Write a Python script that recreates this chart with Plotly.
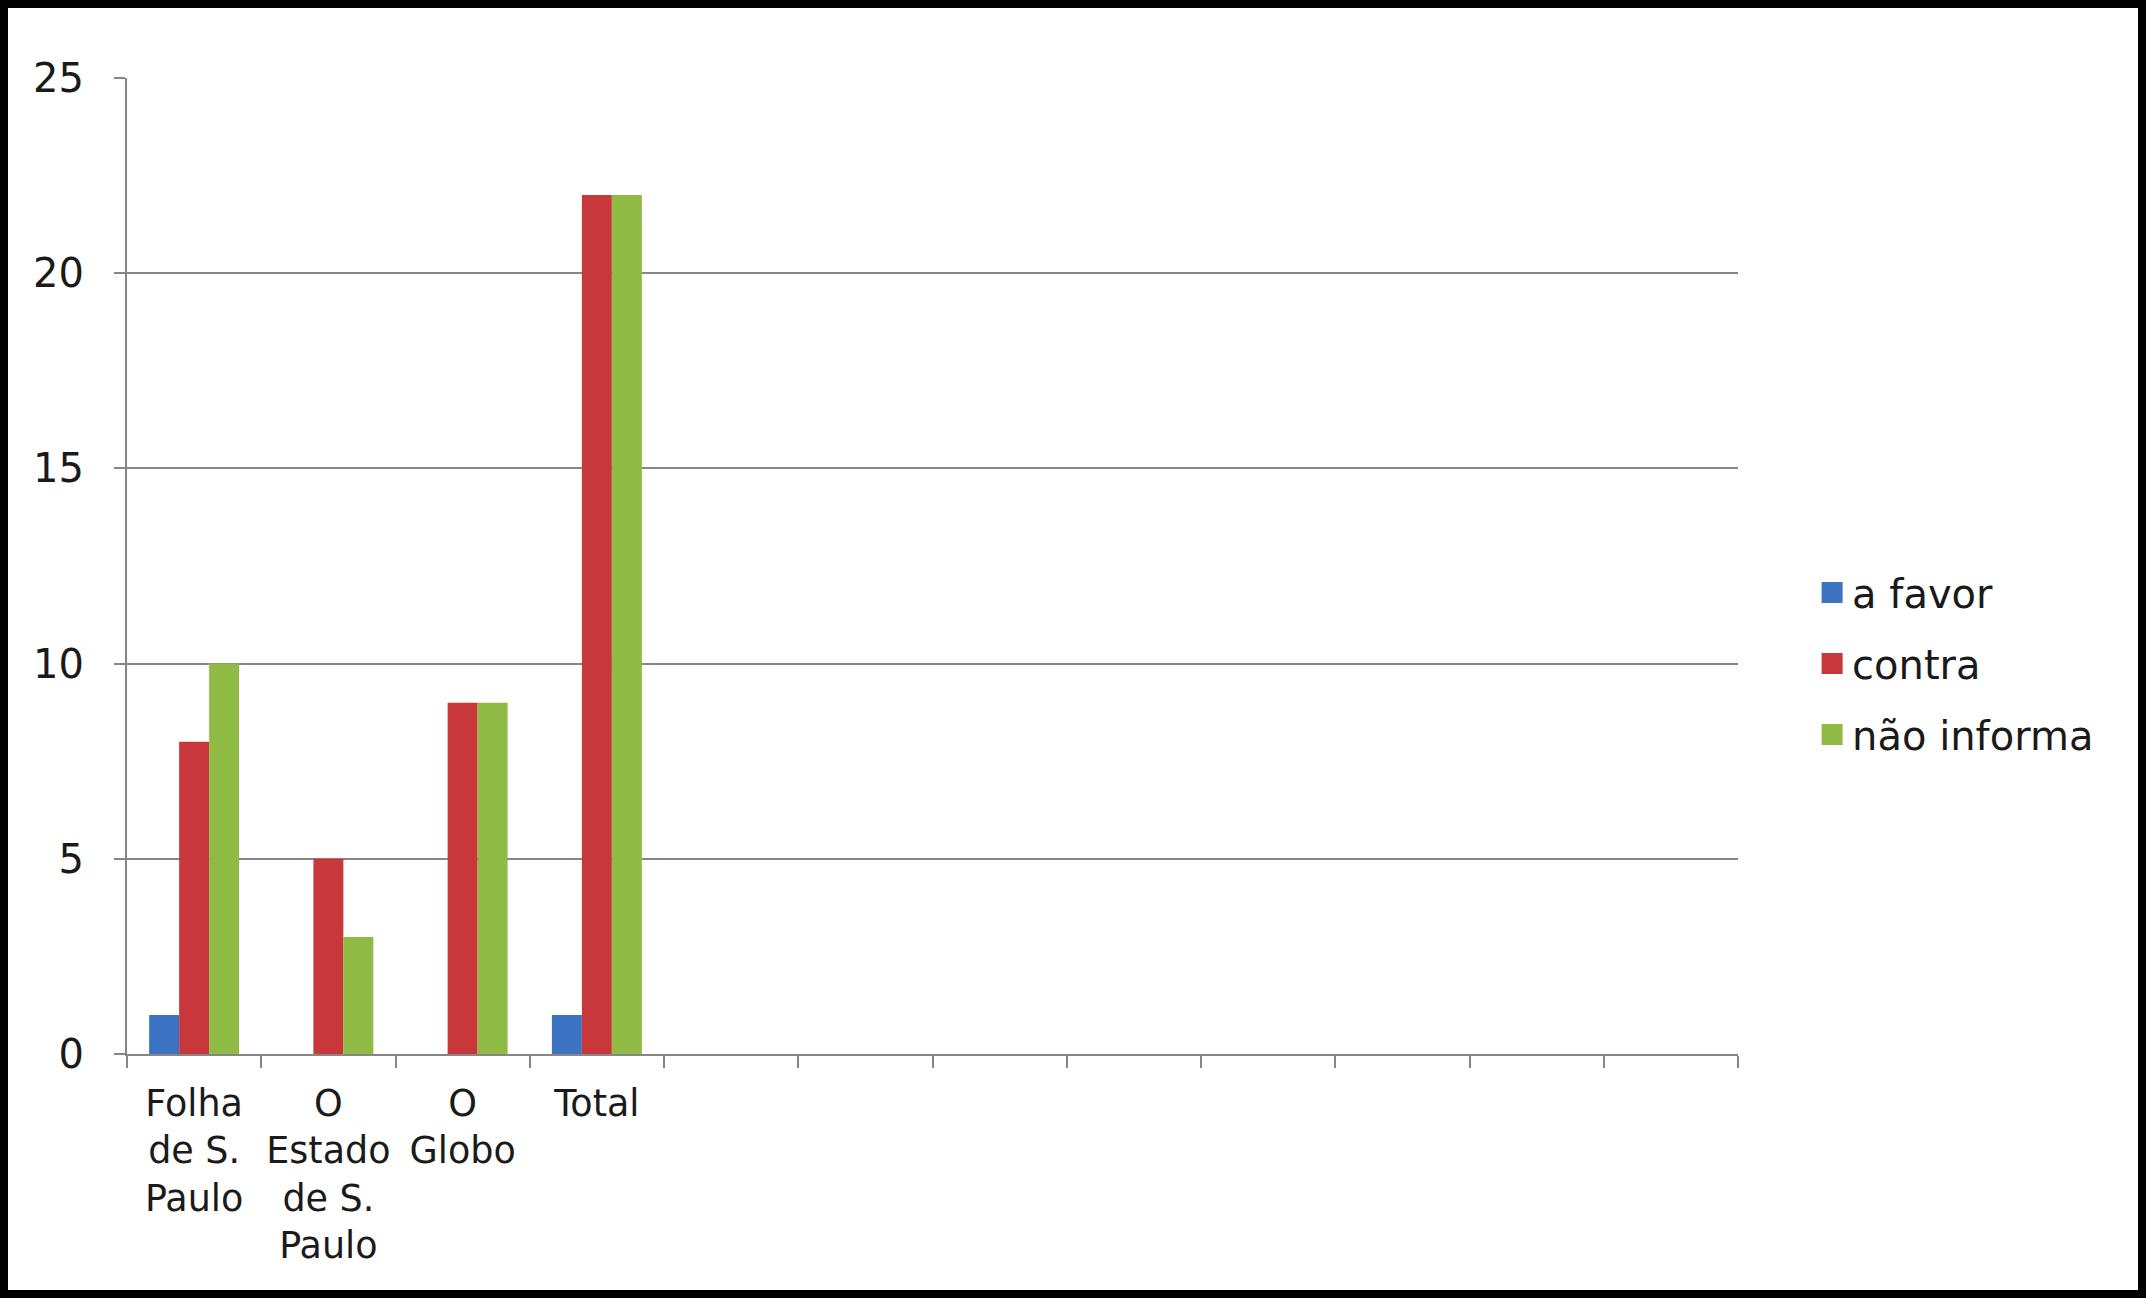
import plotly.graph_objects as go

# chart data
categories = ["Folha<br>de S.<br>Paulo", "O<br>Estado<br>de S.<br>Paulo", "O<br>Globo", "Total"]
n_slots = 12  # the category axis has 12 slots, only 4 are used
a_favor = [1, 0, 0, 1]
contra = [8, 5, 9, 22]
nao_informa = [10, 3, 9, 22]
y_ticks = [0, 5, 10, 15, 20, 25]

W, H = 2146, 1298
ML, MR, MT, MB = 127, 408, 78, 244
FONT = "DejaVu Sans"
GRID = "#868686"

x = list(range(len(categories)))

fig = go.Figure()
series = [
    ("a favor", a_favor, "#3B72C2"),
    ("contra", contra, "#C8373A"),
    ("não informa", nao_informa, "#8FBA44"),
]
for name, vals, color in series:
    fig.add_trace(go.Bar(
        x=x, y=vals, name=name, legendgroup=name, showlegend=False,
        marker=dict(color=color, line=dict(width=0)),
    ))
    # legend entry only: bigger square key than the bar default
    fig.add_trace(go.Scatter(
        x=[None], y=[None], mode="markers", name=name, legendgroup=name,
        marker=dict(symbol="square", size=16, color=color,
                    line=dict(color=color, width=5)),
    ))

# black frame around the whole picture
pw, ph = W - ML - MR, H - MT - MB
fig.add_shape(
    type="rect", xref="paper", yref="paper",
    x0=-(ML - 4) / pw, x1=1 + (MR - 4) / pw,
    y0=-(MB - 4) / ph, y1=1 + (MT - 4) / ph,
    line=dict(color="black", width=8), layer="above",
)

fig.update_layout(
    width=W, height=H,
    margin=dict(l=ML, r=MR, t=MT, b=MB, pad=0),
    paper_bgcolor="white", plot_bgcolor="white",
    barmode="group", bargap=0.33, bargroupgap=0,
    font=dict(family=FONT, size=36.5, color="#1a1a1a"),
    legend=dict(
        x=1.046, xanchor="left", y=0.40, yanchor="middle",
        font=dict(size=40), tracegroupgap=16, bgcolor="rgba(0,0,0,0)",
    ),
    xaxis=dict(
        range=[-0.5, n_slots - 0.5], tickmode="array",
        tickvals=x, ticktext=categories, ticks="",
        showgrid=False, zeroline=False,
        showline=True, linecolor=GRID, linewidth=2,
        minor=dict(tickmode="linear", tick0=-0.5, dtick=1, ticks="outside",
                   ticklen=12, tickwidth=2, tickcolor=GRID, showgrid=False),
        ticklabelstandoff=16, fixedrange=True,
    ),
    yaxis=dict(
        range=[0, 25], tickmode="array", tickvals=y_ticks,
        ticks="outside", ticklen=11, tickwidth=2, tickcolor=GRID,
        showgrid=True, gridcolor=GRID, gridwidth=2,
        zeroline=False, showline=True, linecolor=GRID, linewidth=2,
        tickfont=dict(size=40), ticklabelstandoff=22, fixedrange=True,
    ),
)

fig.write_html("out.html", config={"displayModeBar": False},
               post_script="document.body.style.margin = '0';")
